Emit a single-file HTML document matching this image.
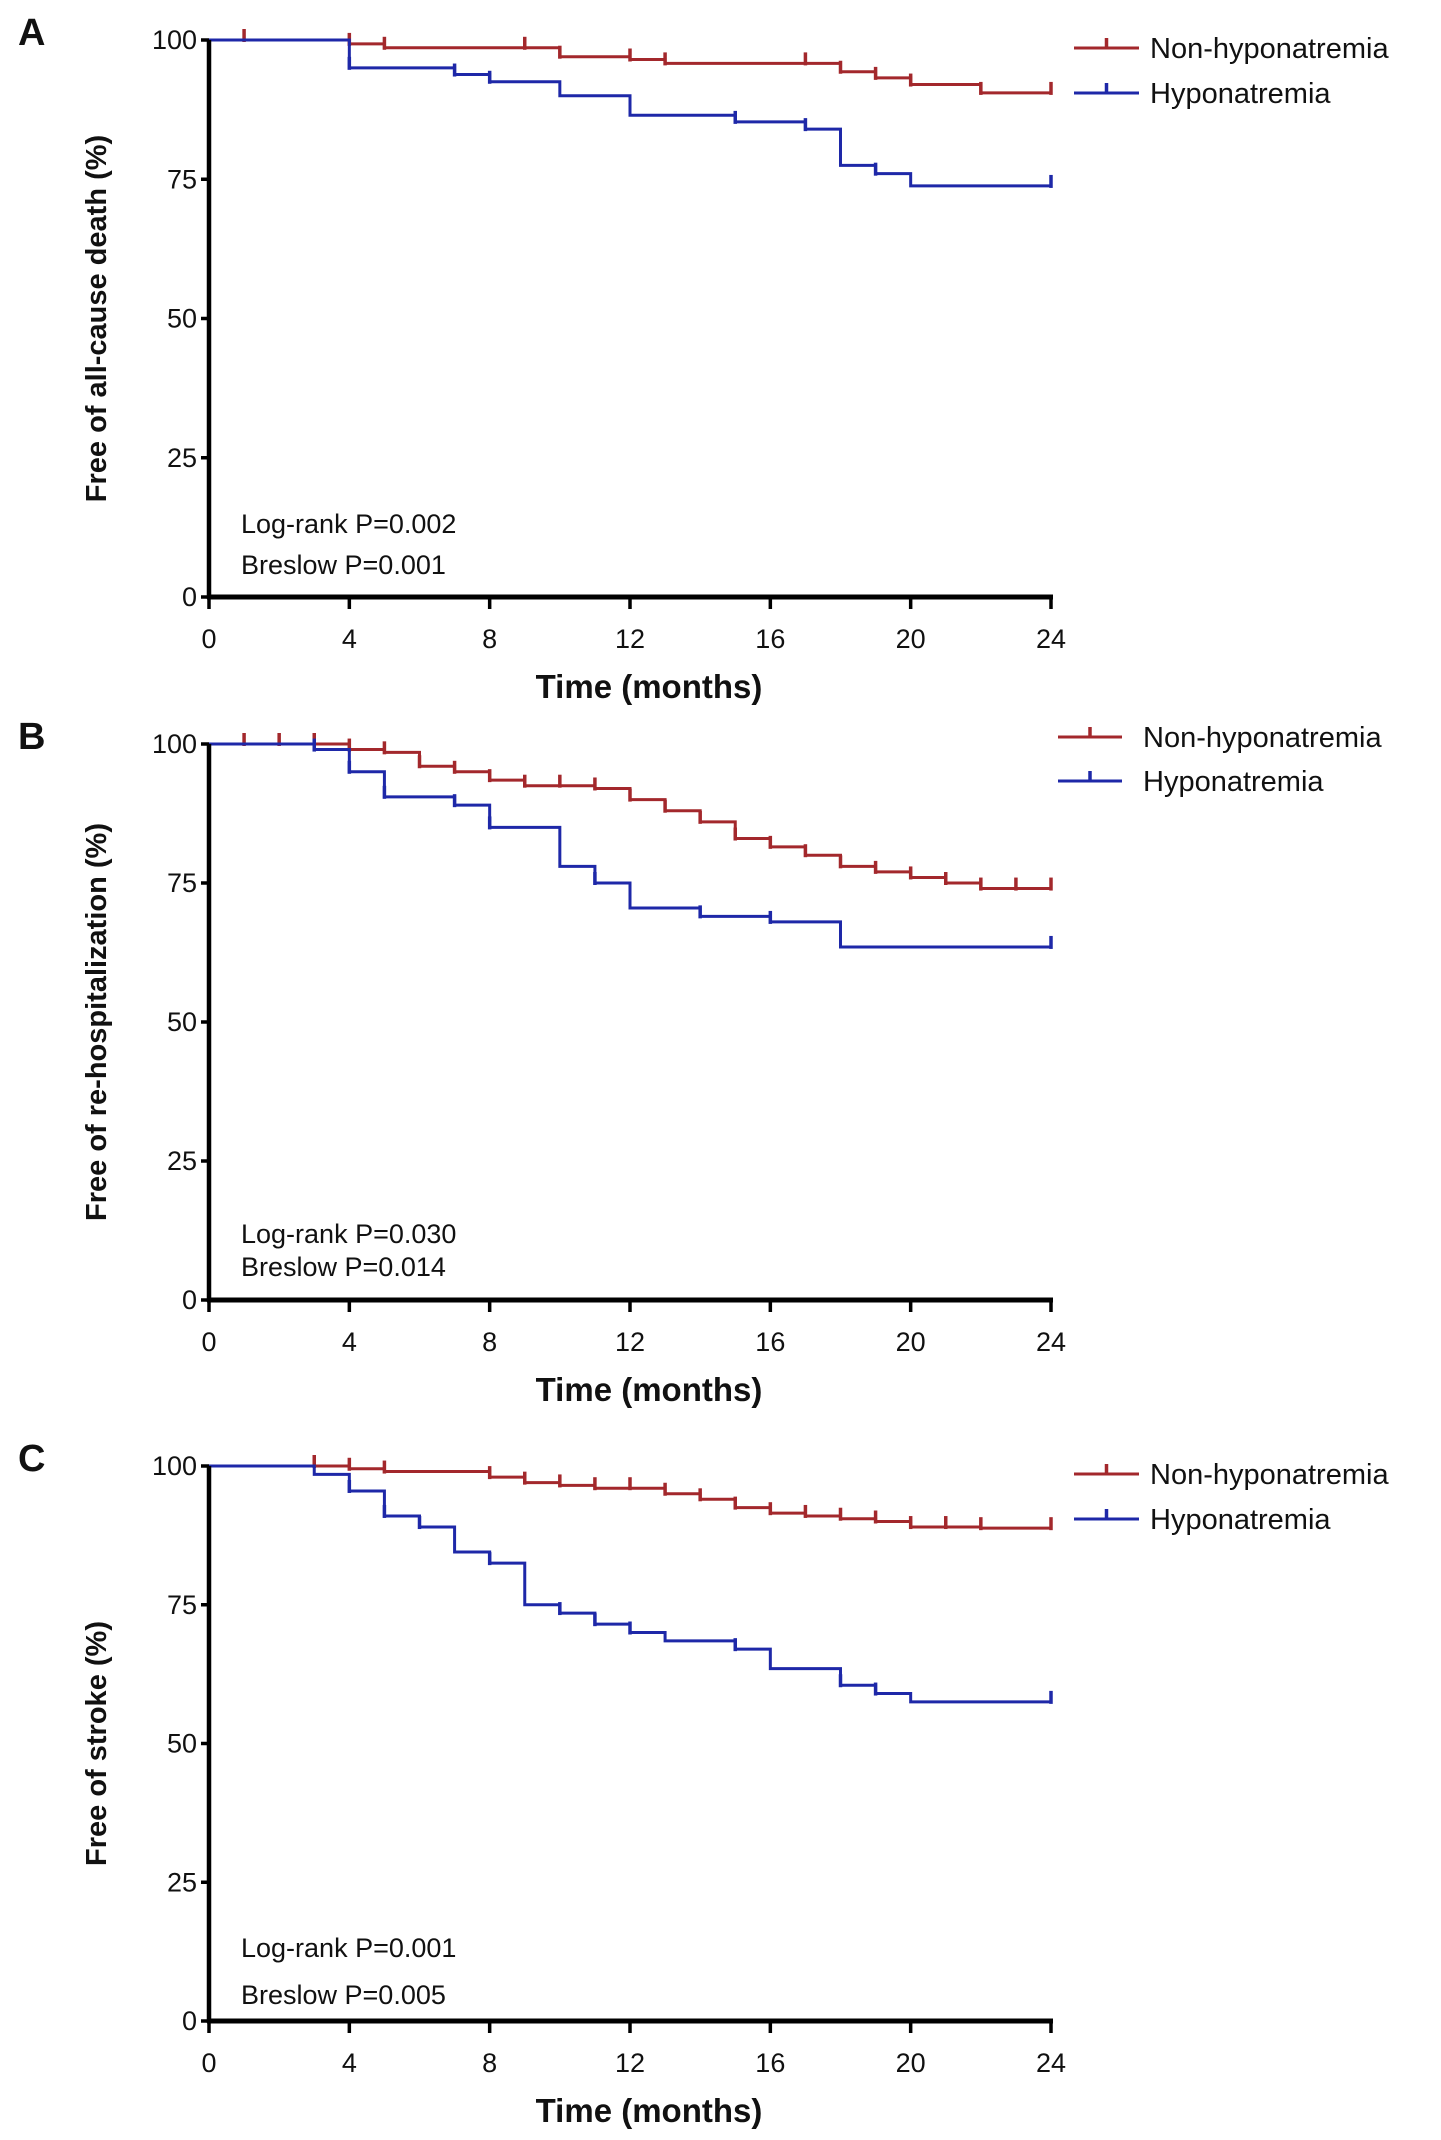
<!DOCTYPE html>
<html><head><meta charset="utf-8"><style>
html,body{margin:0;padding:0;background:#fff;}
svg{display:block;}
.t{font-family:"Liberation Sans Narrow","Liberation Sans",sans-serif;fill:#111;font-weight:500;}
.yt{font-family:"Liberation Sans",sans-serif;font-weight:bold;fill:#111;}
</style></head><body>
<svg id="fig" width="1441" height="2140" viewBox="0 0 1441 2140" xmlns="http://www.w3.org/2000/svg"></svg>
<script>
// Panel A data
const aNonTimes=[0,4,5,10,12,13,18,19,20,22];
const aNonVals=[100,99.3,98.6,97,96.5,95.8,94.3,93.2,92,90.5];
const aNonCens=[1,4,5,9,10,12,13,17,18,19,20,22,24];
const aHypTimes=[0,4,7,8,10,12,15,17,18,19,20];
const aHypVals=[100,95,93.8,92.5,90,86.5,85.3,84,77.5,76,73.8];
const aHypCens=[4,7,8,15,17,19,24];
// Panel B data
const bNonTimes=[0,4,5,6,7,8,9,11,12,13,14,15,16,17,18,19,20,21,22];
const bNonVals=[100,99,98.5,96,95,93.5,92.5,92,90,88,86,83,81.5,80,78,77,76,75,74];
const bNonCens=[1,2,3,4,5,6,7,8,9,10,11,12,13,14,15,16,17,18,19,20,21,22,23,24];
const bHypTimes=[0,3,4,5,7,8,10,11,12,14,16,18];
const bHypVals=[100,99,95,90.5,89,85,78,75,70.5,69,68,63.5];
const bHypCens=[3,4,5,7,8,11,14,16,24];
// Panel C data
const cNonTimes=[0,4,5,8,9,10,11,13,14,15,16,17,18,19,20,22];
const cNonVals=[100,99.5,99,98,97,96.5,96,95,94,92.5,91.5,91,90.5,90,89,88.8];
const cNonCens=[3,4,5,8,9,10,11,12,13,14,15,16,17,18,19,20,21,22,24];
const cHypTimes=[0,3,4,5,6,7,8,9,10,11,12,13,15,16,18,19,20];
const cHypVals=[100,98.5,95.5,91,89,84.5,82.5,75,73.5,71.5,70,68.5,67,63.5,60.5,59,57.5];
const cHypCens=[4,5,6,8,10,11,12,15,18,19,24];
const xTicks=[0,4,8,12,16,20,24];
const yTicks=[0,25,50,75,100];

const NS="http://www.w3.org/2000/svg";
const svg=document.getElementById('fig');
const RED="#a3282c", BLUE="#1e28a8";
function mk(tag,attrs,parent){const e=document.createElementNS(NS,tag);for(const k in attrs)e.setAttribute(k,attrs[k]);(parent||svg).appendChild(e);return e;}

const panels=[
 {id:'a',letter:'A',top:40,bot:597,ytitle:'Free of all-cause death (%)',p1:'Log-rank P=0.002',p2:'Breslow P=0.001',py:[523,564],
  leg:{x1:1074,x2:1139,tx:1150,y:[48,93]},non:[aNonTimes,aNonVals,aNonCens],hyp:[aHypTimes,aHypVals,aHypCens]},
 {id:'b',letter:'B',top:744,bot:1300,ytitle:'Free of re-hospitalization (%)',p1:'Log-rank P=0.030',p2:'Breslow P=0.014',py:[1233,1266],
  leg:{x1:1058,x2:1122,tx:1143,y:[737,781]},non:[bNonTimes,bNonVals,bNonCens],hyp:[bHypTimes,bHypVals,bHypCens]},
 {id:'c',letter:'C',top:1466,bot:2021,ytitle:'Free of stroke (%)',p1:'Log-rank P=0.001',p2:'Breslow P=0.005',py:[1947,1994],
  leg:{x1:1074,x2:1139,tx:1150,y:[1474,1519]},non:[cNonTimes,cNonVals,cNonCens],hyp:[cHypTimes,cHypVals,cHypCens]}
];
const X0=209,X1=1051;
panels.forEach(p=>{
  const g=mk('g',{});
  
  
  const xs=t=>X0+(X1-X0)*t/24;
  const ys=v=>p.bot-(p.bot-p.top)*v/100;
  const L=mk('text',{x:18,y:p.top+5,class:'yt','font-size':38},g);L.textContent=p.letter;
  
  
  function curve(d,color,name){
    const [T,V,C]=d;
    const stepVal=t=>{let v=V[0];for(let i=0;i<T.length;i++){if(T[i]<=t)v=V[i];}return v;};
    let path='M'+xs(T[0])+' '+ys(V[0]);
    for(let i=1;i<T.length;i++){path+=' H'+xs(T[i])+' V'+ys(V[i]);}
    path+=' H'+xs(24);
    const pe=mk('path',{d:path,fill:'none',stroke:color,'stroke-width':3},g);
    
    
    C.forEach(t=>{const y=ys(stepVal(t));const c=mk('line',{x1:xs(t),x2:xs(t),y1:y-11,y2:y+2,stroke:color,'stroke-width':3.5},g);
      
      });
  }
  curve(p.non,RED,'non-hyponatremia');
  curve(p.hyp,BLUE,'hyponatremia');
  const ya=mk('line',{x1:X0,x2:X0,y1:p.top,y2:p.bot+2,stroke:'#000','stroke-width':4.5},g);
  
  
  const xa=mk('line',{x1:X0-2,x2:X1+2,y1:p.bot,y2:p.bot,stroke:'#000','stroke-width':5},g);
  
  
  yTicks.forEach(v=>{
    mk('line',{x1:X0-8,x2:X0,y1:ys(v),y2:ys(v),stroke:'#000','stroke-width':3.5},g);
    const t=mk('text',{x:X0-12,y:ys(v)+9,'text-anchor':'end',class:'t','font-size':27},g);t.textContent=v;
    
    
  });
  xTicks.forEach(v=>{
    mk('line',{x1:xs(v),x2:xs(v),y1:p.bot,y2:p.bot+12,stroke:'#000','stroke-width':3.5},g);
    const t=mk('text',{x:xs(v),y:p.bot+51,'text-anchor':'middle',class:'t','font-size':27},g);t.textContent=v;
    
    
  });
  const xt=mk('text',{x:649,y:p.bot+101,'text-anchor':'middle',class:'t','font-size':33,style:'font-weight:bold'},g);xt.textContent='Time (months)';
  
  
  const cy=(p.top+p.bot)/2;
  const yt=mk('text',{x:106,y:cy,'text-anchor':'middle',class:'yt','font-size':29,transform:'rotate(-90 106 '+cy+')'},g);yt.textContent=p.ytitle;
  
  
  const s1=mk('text',{x:241,y:p.py[0]+10,class:'t','font-size':27},g);s1.textContent=p.p1;
  
  
  const s2=mk('text',{x:241,y:p.py[1]+10,class:'t','font-size':27},g);s2.textContent=p.p2;
  
  
  [['Non-hyponatremia',RED],['Hyponatremia',BLUE]].forEach((e,i)=>{
    const y=p.leg.y[i];
    const lg=mk('g',{},g);
    
    
    mk('line',{x1:p.leg.x1,x2:p.leg.x2,y1:y,y2:y,stroke:e[1],'stroke-width':3},lg);
    const m=(p.leg.x1+p.leg.x2)/2;
    mk('line',{x1:m,x2:m,y1:y-10,y2:y,stroke:e[1],'stroke-width':3.5},lg);
    const t=mk('text',{x:p.leg.tx,y:y+10,class:'t','font-size':29},lg);t.textContent=e[0];
  });
});
</script>
</body></html>
